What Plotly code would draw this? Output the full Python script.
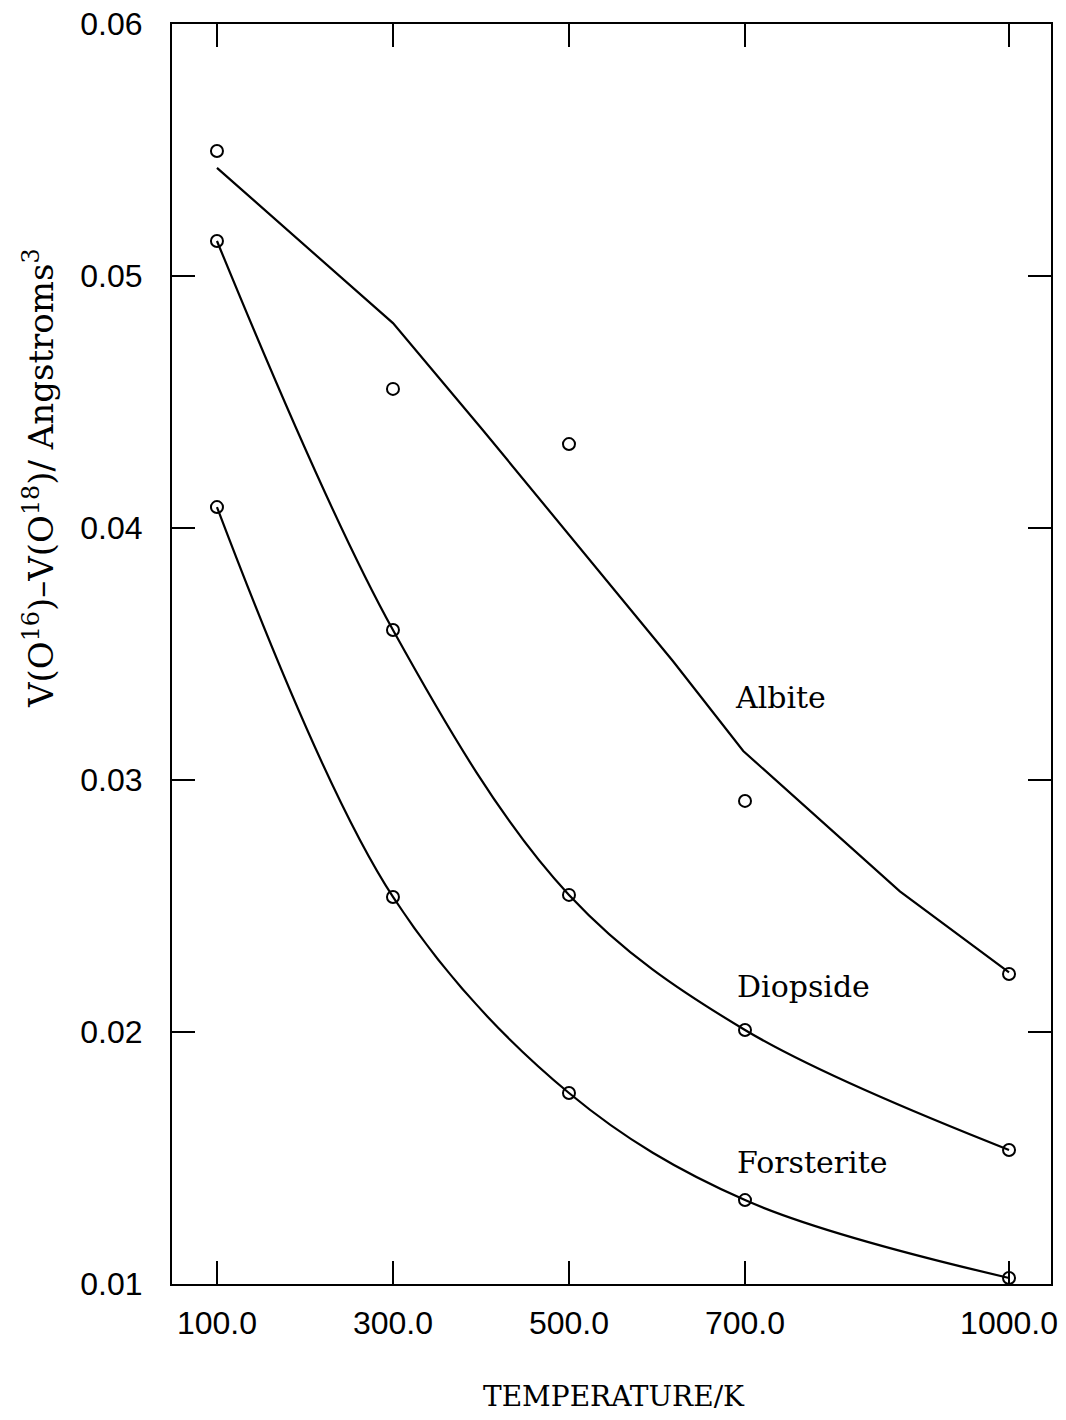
import plotly.graph_objects as go

# ---- data ----
temps = [100, 300, 500, 700, 1000]
albite = [0.05496, 0.04552, 0.04333, 0.02917, 0.02230]
diopside = [0.05139, 0.03595, 0.02544, 0.02008, 0.01532]
forsterite = [0.04083, 0.02536, 0.01758, 0.01333, 0.01024]

# fitted line drawn for albite (does not pass through the points)
albite_fit_T = [100, 300, 402, 522, 618, 698, 876, 1000]
albite_fit = [0.05429, 0.04813, 0.04389, 0.03881, 0.03472, 0.03115, 0.02558, 0.02237]

x_ticks = [100, 300, 500, 700, 1000]
x_ticktext = ["100.0", "300.0", "500.0", "700.0", "1000.0"]
y_ticks = [0.01, 0.02, 0.03, 0.04, 0.05, 0.06]
y_ticktext = ["0.01", "0.02", "0.03", "0.04", "0.05", "0.06"]

labels = ["Albite", "Diopside", "Forsterite"]
label_T = [686, 689, 689]
label_y = [0.03329, 0.02179, 0.01484]

SERIF = "DejaVu Serif"
SANS = "Liberation Sans"

fig = go.Figure()

marker_style = dict(symbol="circle-open", size=12, color="black", line=dict(width=2, color="black"))

fig.add_trace(go.Scatter(x=albite_fit_T, y=albite_fit, mode="lines",
                         line=dict(color="black", width=2.2),
                         showlegend=False, hoverinfo="skip"))
fig.add_trace(go.Scatter(x=temps, y=diopside, mode="lines",
                         line=dict(color="black", width=2.2, shape="spline", smoothing=1.0),
                         showlegend=False, hoverinfo="skip"))
fig.add_trace(go.Scatter(x=temps, y=forsterite, mode="lines",
                         line=dict(color="black", width=2.2, shape="spline", smoothing=1.0),
                         showlegend=False, hoverinfo="skip"))

for ys in (albite, diopside, forsterite):
    fig.add_trace(go.Scatter(x=temps, y=ys, mode="markers", marker=marker_style, showlegend=False))

for t, xv, yv in zip(labels, label_T, label_y):
    fig.add_annotation(x=xv, y=yv, xref="x", yref="y", text=t, showarrow=False,
                       xanchor="left", yanchor="middle",
                       font=dict(family=SERIF, size=30, color="black"))

# page body has an 8px margin; figure is sized so that the plot area sits at
# x 172..1051, y 24..1284 of the window
fig.add_annotation(x=0.503, y=-0.0895, xref="paper", yref="paper", text="TEMPERATURE/K",
                   showarrow=False, xanchor="center", yanchor="middle",
                   font=dict(family=SERIF, size=28, color="black"))

fig.add_annotation(x=-0.152, y=0.64, xref="paper", yref="paper",
                   text="V(O<sup>16</sup>)\u2013V(O<sup>18</sup>)/ Angstroms<sup>3</sup>",
                   textangle=-90, showarrow=False, xanchor="center", yanchor="middle",
                   font=dict(family=SERIF, size=34, color="black"))

axis_common = dict(showline=True, linecolor="black", linewidth=2, mirror="ticks",
                   ticks="inside", ticklen=23, tickwidth=2, tickcolor="black",
                   showgrid=False, zeroline=False, ticklabeloverflow="allow",
                   automargin=False,
                   tickfont=dict(family=SANS, size=32, color="black"))

fig.update_xaxes(range=[48.9, 1047.7], tickmode="array", tickvals=x_ticks, ticktext=x_ticktext,
                 ticklabelstandoff=10, **axis_common)
fig.update_yaxes(range=[0.01, 0.06], tickmode="array", tickvals=y_ticks, ticktext=y_ticktext,
                 ticklabelstandoff=21, **axis_common)

fig.update_layout(width=1050, height=1404, margin=dict(l=164, r=7, t=16, b=128, autoexpand=False),
                  paper_bgcolor="white", plot_bgcolor="white")

fig.write_html("out.html")
